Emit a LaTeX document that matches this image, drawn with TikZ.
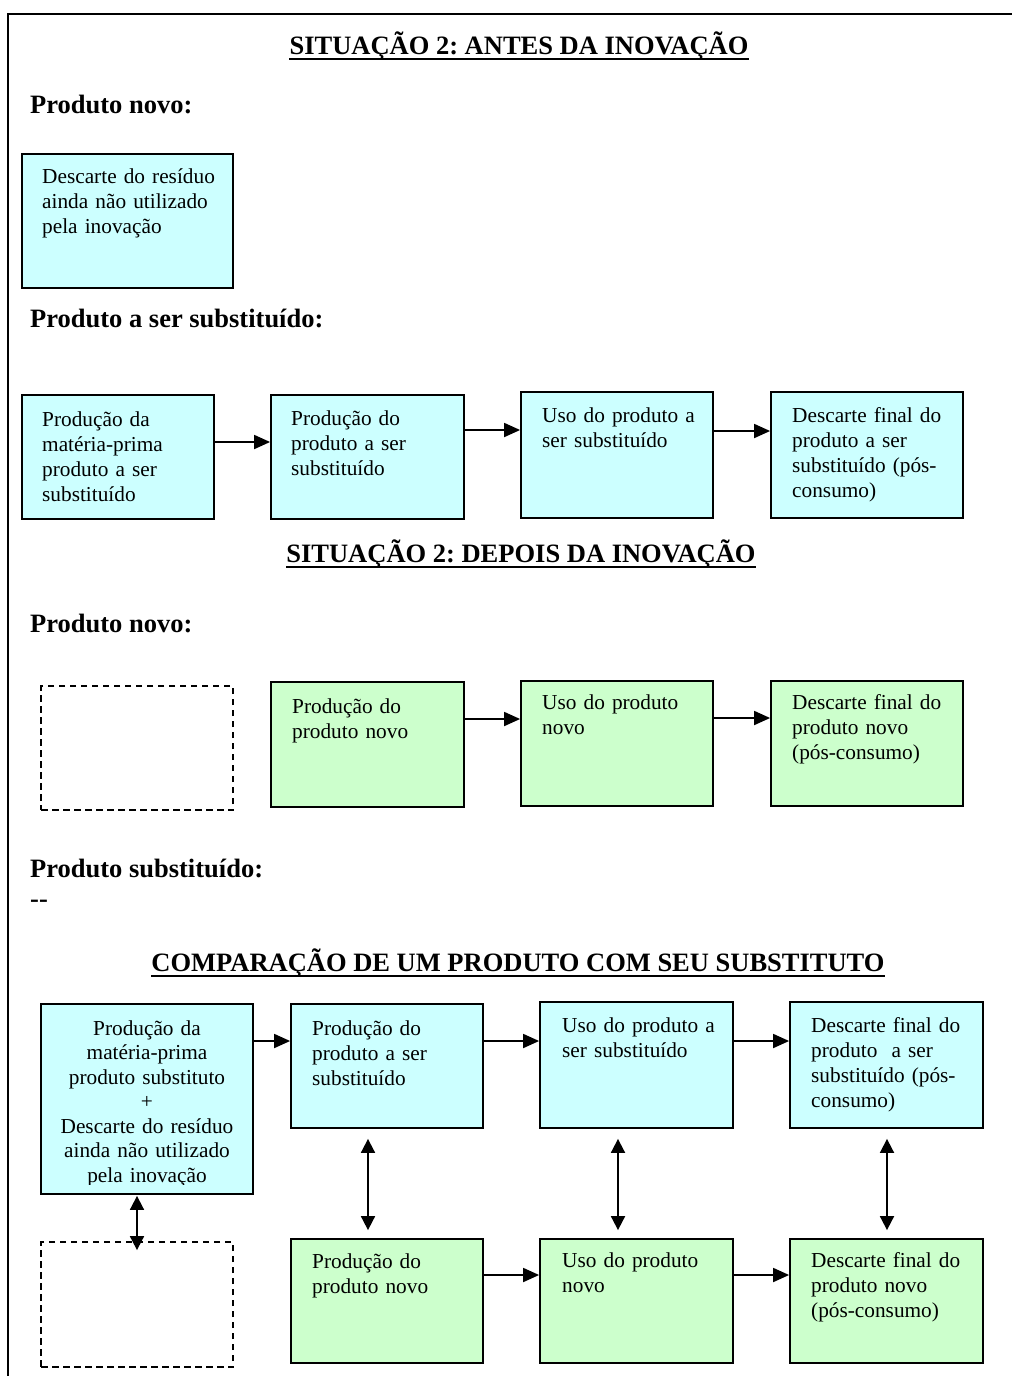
\documentclass[tikz,border=0pt]{standalone}
\usepackage{fontspec}
\setmainfont{Liberation Serif}
\usetikzlibrary{arrows.meta,calc}

\definecolor{boxcyan}{HTML}{CCFFFF}
\definecolor{boxgreen}{HTML}{CCFFCC}

\newcommand\txtfnt{\fontsize{21.3}{25.3}\selectfont}
\newcommand\hdfnt{\fontsize{26.5}{31}\selectfont\bfseries}
\frenchspacing

\begin{document}
\begin{tikzpicture}[x=1pt,y=-1pt,
  stage/.style={draw=black, line width=1.8pt, inner sep=0pt},
  oldbox/.style={stage, fill=boxcyan},
  newbox/.style={stage, fill=boxgreen},
  emptybox/.style={draw=black, line width=1.8pt, dash pattern=on 6.5pt off 4.5pt, inner sep=0pt},
  boxtext/.style={anchor=base west, inner sep=0pt, text width=185pt, align=left, font=\txtfnt},
  heading/.style={anchor=base, inner sep=0pt, font=\hdfnt},
  sectlabel/.style={anchor=base west, inner sep=0pt, font=\hdfnt},
  flow/.style={line width=1.8pt, -{Triangle[length=16pt,width=14pt]}},
  link/.style={line width=1.8pt, {Triangle[length=14pt,width=14pt]}-{Triangle[length=14pt,width=14pt]}},
  uline/.style={line width=2pt},
]
\useasboundingbox (0,0) rectangle (1012,1376);

% page frame
\draw[line width=2.2pt] (8,1376) -- (8,14) -- (1012,14);

% ---------------- before the innovation ----------------
\node[heading] (h1) at (519,54) {SITUAÇÃO 2: ANTES DA INOVAÇÃO};
\draw[uline] ([yshift=-4.5pt]h1.base west) -- ([yshift=-4.5pt]h1.base east);

\node[sectlabel] (l1) at (30,113) {Produto novo:};
\node[oldbox, minimum width=211pt, minimum height=134pt] (res) at (127.5,221) {};
\node[boxtext] (res-t) at (42,183) {Descarte do resíduo\\ainda não utilizado\\pela inovação};

\node[sectlabel] (l2) at (30,327) {Produto a ser substituído:};
\node[oldbox, minimum width=192pt, minimum height=124pt] (a1) at (118,457) {};
\node[oldbox, minimum width=193pt, minimum height=124pt] (a2) at (367.5,457) {};
\node[oldbox, minimum width=192pt, minimum height=126pt] (a3) at (617,455) {};
\node[oldbox, minimum width=192pt, minimum height=126pt] (a4) at (867,455) {};
\node[boxtext] (a1-t) at (42,426) {Produção da\\matéria-prima\\produto a ser\\substituído};
\node[boxtext] (a2-t) at (291,425) {Produção do\\produto a ser\\substituído};
\node[boxtext] (a3-t) at (542,422) {Uso do produto a\\ser substituído};
\node[boxtext] (a4-t) at (792,422) {Descarte final do\\produto a ser\\substituído (pós-\\consumo)};
\draw[flow] (a1.east |- 0,442) -- (a2.west |- 0,442);
\draw[flow] (a2.east |- 0,430) -- (a3.west |- 0,430);
\draw[flow] (a3.east |- 0,431) -- (a4.west |- 0,431);

% ---------------- after the innovation ----------------
\node[heading] (h2) at (521,562) {SITUAÇÃO 2: DEPOIS DA INOVAÇÃO};
\draw[uline] ([yshift=-4.5pt]h2.base west) -- ([yshift=-4.5pt]h2.base east);

\node[sectlabel] (l3) at (30,632) {Produto novo:};
\node[emptybox, minimum width=192pt, minimum height=124pt] (b0) at (137,748) {};
\node[newbox, minimum width=193pt, minimum height=125pt] (b2) at (367.5,744.5) {};
\node[newbox, minimum width=192pt, minimum height=125pt] (b3) at (617,743.5) {};
\node[newbox, minimum width=192pt, minimum height=125pt] (b4) at (867,743.5) {};
\node[boxtext] (b2-t) at (292,713) {Produção do\\produto novo};
\node[boxtext] (b3-t) at (542,709) {Uso do produto\\novo};
\node[boxtext] (b4-t) at (792,709) {Descarte final do\\produto novo\\(pós-consumo)};
\draw[flow] (b2.east |- 0,719) -- (b3.west |- 0,719);
\draw[flow] (b3.east |- 0,718) -- (b4.west |- 0,718);

\node[sectlabel] (l4) at (30,877) {Produto substituído:};
\node[sectlabel] (l5) at (30,907) {\mbox{-}\mbox{-}};

% ---------------- comparison ----------------
\node[heading] (h3) at (518,971) {COMPARAÇÃO DE UM PRODUTO COM SEU SUBSTITUTO};
\draw[uline] ([yshift=-4.5pt]h3.base west) -- ([yshift=-4.5pt]h3.base east);

\node[oldbox, minimum width=212pt, minimum height=190pt] (p1) at (147,1099) {};
\node[oldbox, minimum width=192pt, minimum height=124pt] (q1) at (387,1066) {};
\node[oldbox, minimum width=193pt, minimum height=126pt] (r1) at (636.5,1065) {};
\node[oldbox, minimum width=193pt, minimum height=126pt] (s1) at (886.5,1065) {};
\node[emptybox, minimum width=192pt, minimum height=125pt] (t2) at (137,1304.5) {};
\node[newbox, minimum width=192pt, minimum height=124pt] (u2) at (387,1301) {};
\node[newbox, minimum width=193pt, minimum height=124pt] (v2) at (636.5,1301) {};
\node[newbox, minimum width=193pt, minimum height=124pt] (w2) at (886.5,1301) {};

\begin{scope}
  \clip (p1.north west) rectangle ($(p1.south east)+(0,-10)$);
  \node[anchor=base, inner sep=0pt, text width=212pt, align=center,
        font={\fontsize{21.3}{24.5}\selectfont}] (p1-t) at (147,1035)
    {Produção da\\matéria-prima\\produto substituto\\+\\Descarte do resíduo\\ainda não utilizado\\pela inovação};
\end{scope}
\node[boxtext] (q1-t) at (312,1035) {Produção do\\produto a ser\\substituído};
\node[boxtext] (r1-t) at (562,1032) {Uso do produto a\\ser substituído};
\node[boxtext] (s1-t) at (811,1032) {Descarte final do\\produto\ \ a ser\\substituído (pós-\\consumo)};
\node[boxtext] (u2-t) at (312,1268) {Produção do\\produto novo};
\node[boxtext] (v2-t) at (562,1267) {Uso do produto\\novo};
\node[boxtext] (w2-t) at (811,1267) {Descarte final do\\produto novo\\(pós-consumo)};

\draw[flow] (p1.east |- 0,1041) -- (q1.west |- 0,1041);
\draw[flow] (q1.east |- 0,1041) -- (r1.west |- 0,1041);
\draw[flow] (r1.east |- 0,1041) -- (s1.west |- 0,1041);
\draw[flow] (u2.east |- 0,1275) -- (v2.west |- 0,1275);
\draw[flow] (v2.east |- 0,1275) -- (w2.west |- 0,1275);

\draw[link] ($(p1.south)+(-10,1)$) -- ($(t2.north)+(0,9)$);
\draw[link] ($(q1.south)+(-19,10)$) -- ($(u2.north)+(-19,-8)$);
\draw[link] ($(r1.south)+(-18.5,10)$) -- ($(v2.north)+(-18.5,-8)$);
\draw[link] ($(s1.south)+(0.5,10)$) -- ($(w2.north)+(0.5,-8)$);
\end{tikzpicture}
\end{document}
